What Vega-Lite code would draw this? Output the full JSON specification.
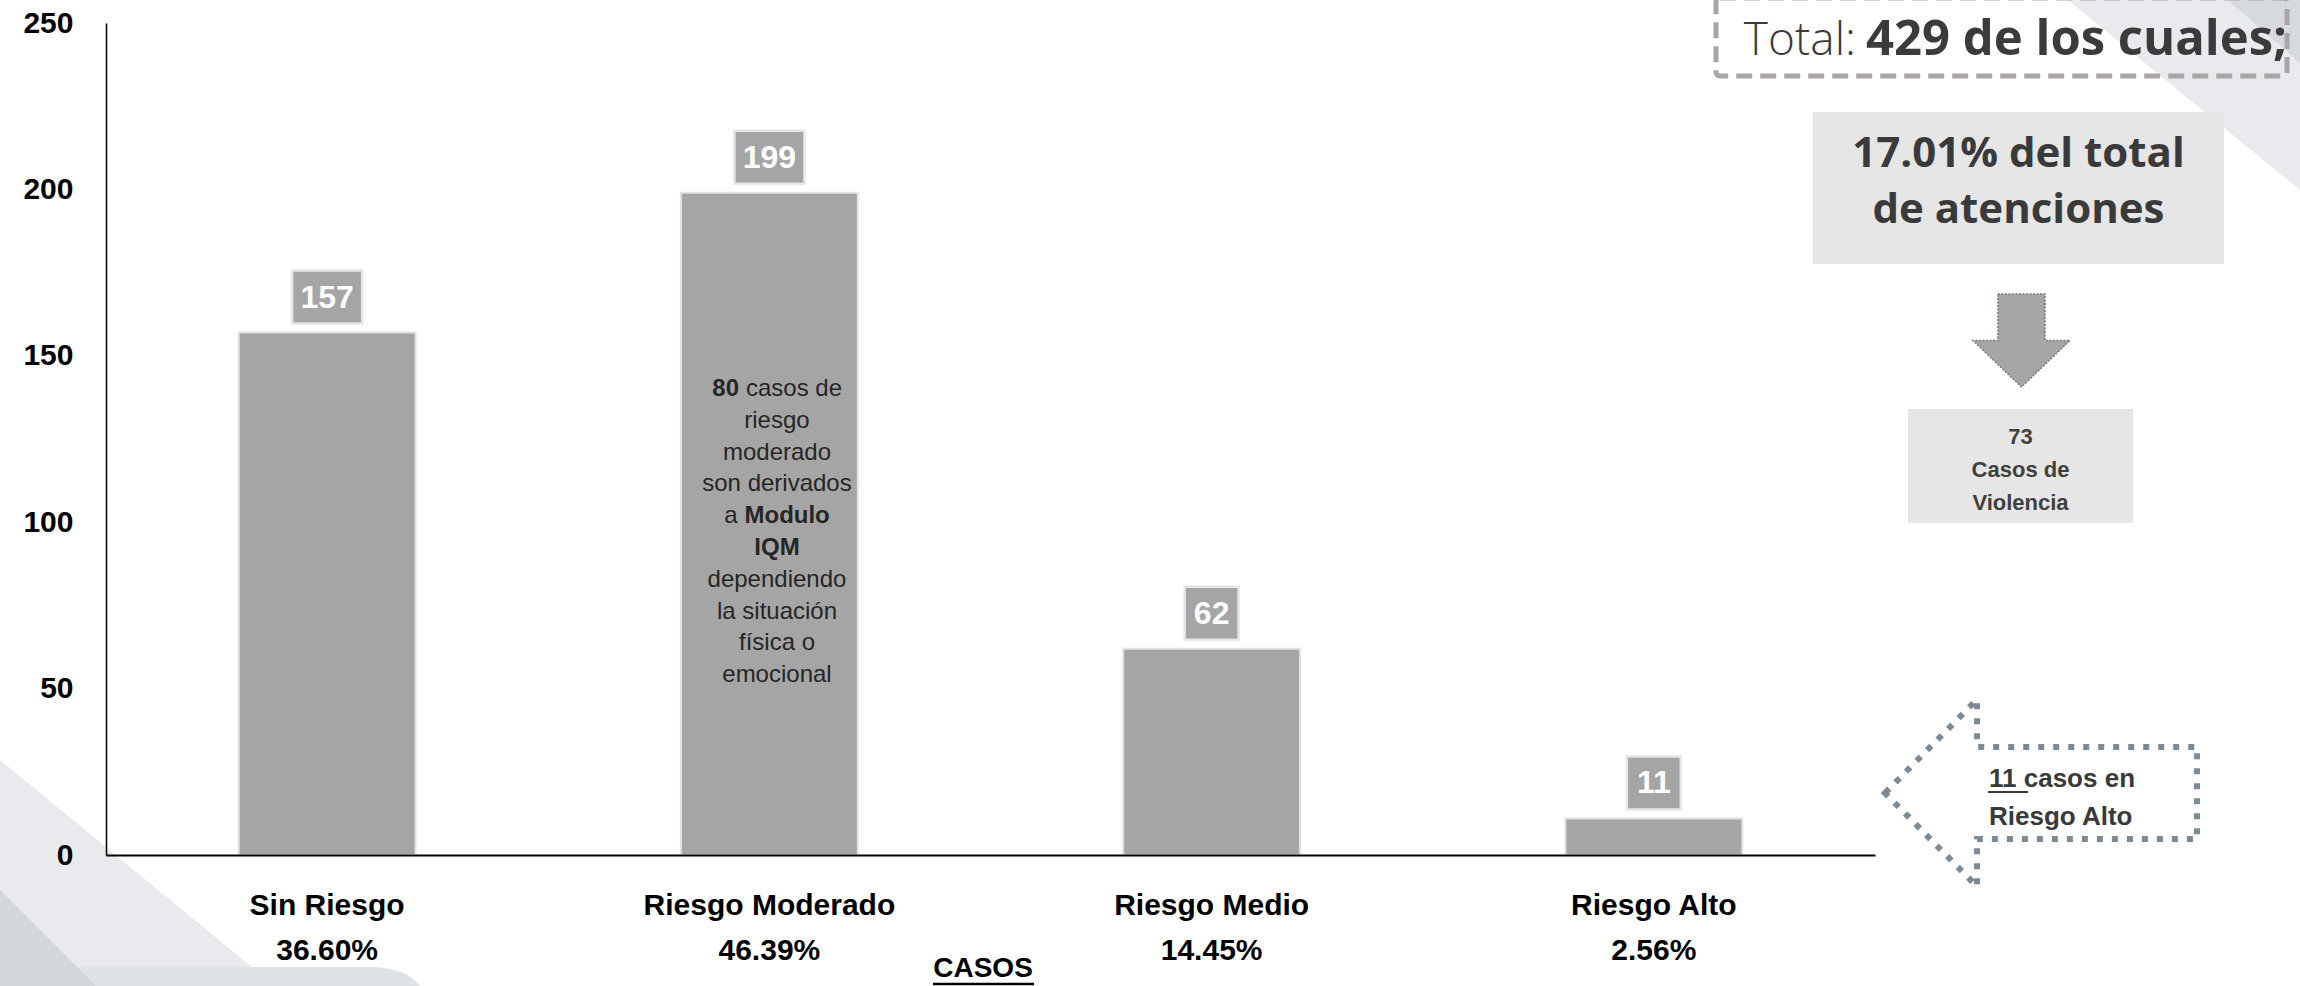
{
  "$schema": "https://vega.github.io/schema/vega-lite/v6.json",
  "width": 1769,
  "height": 832,
  "autosize": {"type": "none"},
  "padding": {"left": 106, "top": 23, "right": 425, "bottom": 131},
  "background": "white",
  "config": {"view": {"stroke": null}, "font": "Liberation Sans"},
  "data": {"values": [
    {"categoria": "Sin Riesgo", "casos": 157, "porcentaje": 0.3660},
    {"categoria": "Riesgo Moderado", "casos": 199, "porcentaje": 0.4639},
    {"categoria": "Riesgo Medio", "casos": 62, "porcentaje": 0.1445},
    {"categoria": "Riesgo Alto", "casos": 11, "porcentaje": 0.0256}
  ]},
  "resolve": {"scale": {"x": "independent"}},
  "layer": [
    {
      "data": {"values": [{}]},
      "encoding": {
        "x": {"datum": 0, "type": "quantitative", "scale": {"domain": [0, 4], "nice": false}, "axis": null},
        "y": {"datum": 0, "type": "quantitative", "scale": {"domain": [0, 250], "nice": false}}
      },
      "layer": [
        {"mark": {"type": "point", "shape": "M -106 -95 L 169 131 L -106 131 Z", "size": 4, "filled": true, "fill": "#e9eaed", "strokeWidth": 0, "opacity": 1}},
        {"mark": {"type": "point", "shape": "M -106 112 L 264 112 Q 300 112 314 131 L -106 131 Z", "size": 4, "filled": true, "fill": "#e0e3e6", "strokeWidth": 0, "opacity": 1}},
        {"mark": {"type": "point", "shape": "M -106 35 L -10 131 L -106 131 Z", "size": 4, "filled": true, "fill": "#d3d7dc", "strokeWidth": 0, "opacity": 1}},
        {"mark": {"type": "point", "shape": "M -232 0 L 0 0 L 0 190 Z", "size": 4, "filled": true, "fill": "#e9eaed", "strokeWidth": 0, "opacity": 1},
         "encoding": {
           "x": {"datum": 4.961, "type": "quantitative", "scale": {"domain": [0, 4], "nice": false}, "axis": null},
           "y": {"datum": 256.91, "type": "quantitative", "scale": {"domain": [0, 250], "nice": false}}
         }},
        {"mark": {"type": "point", "shape": "M -72 0 L 0 0 L 0 63 Z", "size": 4, "filled": true, "fill": "#d6d9de", "strokeWidth": 0, "opacity": 1},
         "encoding": {
           "x": {"datum": 4.961, "type": "quantitative", "scale": {"domain": [0, 4], "nice": false}, "axis": null},
           "y": {"datum": 256.91, "type": "quantitative", "scale": {"domain": [0, 250], "nice": false}}
         }}
      ]
    },
    {
      "encoding": {
        "x": {"field": "categoria", "type": "nominal", "sort": null,
              "scale": {"paddingInner": 0.6, "paddingOuter": 0.3},
              "axis": {"title": null, "labels": false, "ticks": false, "domainColor": "#000000", "domainWidth": 2, "zindex": 1}}
      },
      "layer": [
        {
          "mark": {"type": "bar", "fill": "#a5a5a5", "stroke": "#e2e2e2", "strokeWidth": 2},
          "encoding": {
            "y": {"field": "casos", "type": "quantitative",
                  "scale": {"domain": [0, 250], "nice": false},
                  "axis": {"title": null, "ticks": false, "grid": false, "values": [0, 50, 100, 150, 200, 250],
                           "labelFontSize": 30, "labelFontWeight": "bold", "labelColor": "#000000",
                           "labelPadding": 33, "domainColor": "#000000", "domainWidth": 1.5, "zindex": 1}}
          }
        },
        {
          "mark": {"type": "bar", "fill": "#a5a5a5", "stroke": "#e6e6e6", "strokeWidth": 2.5, "yOffset": -9, "y2Offset": -62},
          "encoding": {
            "y": {"field": "casos", "type": "quantitative", "scale": {"domain": [0, 250], "nice": false}},
            "y2": {"field": "casos"},
            "size": {"condition": {"test": "datum.casos >= 100", "value": 70}, "value": 54}
          }
        },
        {
          "mark": {"type": "text", "color": "#ffffff", "fontSize": 32, "fontWeight": "bold", "baseline": "middle", "dy": -35},
          "encoding": {
            "y": {"field": "casos", "type": "quantitative", "scale": {"domain": [0, 250], "nice": false}},
            "text": {"field": "casos", "type": "quantitative"}
          }
        },
        {
          "mark": {"type": "text", "color": "#000000", "fontSize": 30, "fontWeight": "bold", "baseline": "alphabetic", "dy": 60},
          "encoding": {
            "y": {"datum": 0, "type": "quantitative", "scale": {"domain": [0, 250], "nice": false}},
            "text": {"field": "categoria", "type": "nominal"}
          }
        },
        {
          "mark": {"type": "text", "color": "#000000", "fontSize": 30, "fontWeight": "bold", "baseline": "alphabetic", "dy": 105},
          "encoding": {
            "y": {"datum": 0, "type": "quantitative", "scale": {"domain": [0, 250], "nice": false}},
            "text": {"field": "porcentaje", "type": "quantitative", "format": ".2%"}
          }
        }
      ]
    },
    {
      "data": {"values": [{}]},
      "layer": [
        {"mark": {"type": "rect", "filled": false, "stroke": "#aaa6a6", "strokeWidth": 5, "strokeDash": [16, 8], "cornerRadius": 4, "opacity": 1},
         "encoding": {
           "x": {"datum": 3.6405, "type": "quantitative", "scale": {"domain": [0, 4], "nice": false}, "axis": null},
           "x2": {"datum": 4.9316},
           "y": {"datum": 257.5, "type": "quantitative", "scale": {"domain": [0, 250], "nice": false}},
           "y2": {"datum": 234.07}
         }},
        {"mark": {"type": "text", "text": "Total:", "font": "Open Sans", "fontWeight": 300, "fontSize": 46, "align": "right", "baseline": "alphabetic", "color": "#3b3b3b"},
         "encoding": {
           "x": {"datum": 3.9571, "type": "quantitative", "scale": {"domain": [0, 4], "nice": false}, "axis": null},
           "y": {"datum": 240.38, "type": "quantitative", "scale": {"domain": [0, 250], "nice": false}}
         }},
        {"mark": {"type": "text", "text": "429 de los cuales;", "font": "Open Sans", "fontWeight": "bold", "fontSize": 49, "align": "left", "baseline": "alphabetic", "color": "#3b3b3b"},
         "encoding": {
           "x": {"datum": 3.9797, "type": "quantitative", "scale": {"domain": [0, 4], "nice": false}, "axis": null},
           "y": {"datum": 240.38, "type": "quantitative", "scale": {"domain": [0, 250], "nice": false}}
         }},
        {"mark": {"type": "rect", "fill": "#e6e6e6"},
         "encoding": {
           "x": {"datum": 3.8598, "type": "quantitative", "scale": {"domain": [0, 4], "nice": false}, "axis": null},
           "x2": {"datum": 4.7892},
           "y": {"datum": 223.26, "type": "quantitative", "scale": {"domain": [0, 250], "nice": false}},
           "y2": {"datum": 177.58}
         }},
        {"mark": {"type": "text", "text": ["17.01% del total", "de atenciones"], "font": "Open Sans", "fontWeight": "bold", "fontSize": 42, "lineHeight": 56, "align": "center", "baseline": "alphabetic", "color": "#3a3a3a"},
         "encoding": {
           "x": {"datum": 4.3244, "type": "quantitative", "scale": {"domain": [0, 4], "nice": false}, "axis": null},
           "y": {"datum": 206.73, "type": "quantitative", "scale": {"domain": [0, 250], "nice": false}}
         }},
        {"mark": {"type": "point", "shape": "M -0.485 -0.959 L 0.485 -0.959 L 0.485 0 L 1 0 L 0 0.959 L -1 0 L -0.485 0 Z", "size": 9409, "filled": true, "fill": "#a6a6a6", "stroke": "#6d7b88", "strokeWidth": 1.5, "strokeDash": [2, 1.5], "opacity": 1},
         "encoding": {
           "x": {"datum": 4.3312, "type": "quantitative", "scale": {"domain": [0, 4], "nice": false}, "axis": null},
           "y": {"datum": 154.6, "type": "quantitative", "scale": {"domain": [0, 250], "nice": false}}
         }},
        {"mark": {"type": "rect", "fill": "#e6e6e6"},
         "encoding": {
           "x": {"datum": 4.0747, "type": "quantitative", "scale": {"domain": [0, 4], "nice": false}, "axis": null},
           "x2": {"datum": 4.5834},
           "y": {"datum": 134.01, "type": "quantitative", "scale": {"domain": [0, 250], "nice": false}},
           "y2": {"datum": 99.76}
         }},
        {"mark": {"type": "text", "text": ["73", "Casos de", "Violencia"], "fontWeight": "bold", "fontSize": 22, "lineHeight": 33, "align": "center", "baseline": "alphabetic", "color": "#404040"},
         "encoding": {
           "x": {"datum": 4.329, "type": "quantitative", "scale": {"domain": [0, 4], "nice": false}, "axis": null},
           "y": {"datum": 123.5, "type": "quantitative", "scale": {"domain": [0, 250], "nice": false}}
         }},
        {"mark": {"type": "point", "shape": "M -1 0 L -0.41 -0.6 L -0.41 -0.295 L 1 -0.295 L 1 0.295 L -0.41 0.295 L -0.41 0.6 Z", "size": 97344, "filled": false, "stroke": "#7b8a97", "strokeWidth": 6, "strokeDash": [6, 9], "opacity": 1},
         "encoding": {
           "x": {"datum": 4.3754, "type": "quantitative", "scale": {"domain": [0, 4], "nice": false}, "axis": null},
           "y": {"datum": 18.63, "type": "quantitative", "scale": {"domain": [0, 250], "nice": false}}
         }},
        {"mark": {"type": "text", "text": ["11 casos en", "Riesgo Alto"], "fontWeight": "bold", "fontSize": 26, "lineHeight": 38, "align": "left", "baseline": "alphabetic", "color": "#3a3a3a"},
         "encoding": {
           "x": {"datum": 4.2578, "type": "quantitative", "scale": {"domain": [0, 4], "nice": false}, "axis": null},
           "y": {"datum": 20.43, "type": "quantitative", "scale": {"domain": [0, 250], "nice": false}}
         }},
        {"mark": {"type": "rule", "stroke": "#3a3a3a", "strokeWidth": 2},
         "encoding": {
           "x": {"datum": 4.2555, "type": "quantitative", "scale": {"domain": [0, 4], "nice": false}, "axis": null},
           "x2": {"datum": 4.346},
           "y": {"datum": 18.93, "type": "quantitative", "scale": {"domain": [0, 250], "nice": false}}
         }},
        {"mark": {"type": "text", "text": "80", "fontWeight": "bold", "fontSize": 24, "align": "right", "baseline": "alphabetic", "color": "#262626"},
         "encoding": {
           "x": {"datum": 1.4313, "type": "quantitative", "scale": {"domain": [0, 4], "nice": false}, "axis": null},
           "y": {"datum": 137.92, "type": "quantitative", "scale": {"domain": [0, 250], "nice": false}}
         }},
        {"mark": {"type": "text", "text": "casos de", "fontSize": 24, "align": "left", "baseline": "alphabetic", "color": "#262626"},
         "encoding": {
           "x": {"datum": 1.4471, "type": "quantitative", "scale": {"domain": [0, 4], "nice": false}, "axis": null},
           "y": {"datum": 137.92, "type": "quantitative", "scale": {"domain": [0, 250], "nice": false}}
         }},
        {"mark": {"type": "text", "text": ["riesgo", "moderado", "son derivados"], "fontSize": 24, "lineHeight": 31.8, "align": "center", "baseline": "alphabetic", "color": "#262626"},
         "encoding": {
           "x": {"datum": 1.5172, "type": "quantitative", "scale": {"domain": [0, 4], "nice": false}, "axis": null},
           "y": {"datum": 128.37, "type": "quantitative", "scale": {"domain": [0, 250], "nice": false}}
         }},
        {"mark": {"type": "text", "text": "a", "fontSize": 24, "align": "right", "baseline": "alphabetic", "color": "#262626"},
         "encoding": {
           "x": {"datum": 1.4284, "type": "quantitative", "scale": {"domain": [0, 4], "nice": false}, "axis": null},
           "y": {"datum": 99.7, "type": "quantitative", "scale": {"domain": [0, 250], "nice": false}}
         }},
        {"mark": {"type": "text", "text": "Modulo", "fontWeight": "bold", "fontSize": 24, "align": "left", "baseline": "alphabetic", "color": "#262626"},
         "encoding": {
           "x": {"datum": 1.4437, "type": "quantitative", "scale": {"domain": [0, 4], "nice": false}, "axis": null},
           "y": {"datum": 99.7, "type": "quantitative", "scale": {"domain": [0, 250], "nice": false}}
         }},
        {"mark": {"type": "text", "text": "IQM", "fontWeight": "bold", "fontSize": 24, "align": "center", "baseline": "alphabetic", "color": "#262626"},
         "encoding": {
           "x": {"datum": 1.5172, "type": "quantitative", "scale": {"domain": [0, 4], "nice": false}, "axis": null},
           "y": {"datum": 90.14, "type": "quantitative", "scale": {"domain": [0, 250], "nice": false}}
         }},
        {"mark": {"type": "text", "text": ["dependiendo", "la situación", "física o", "emocional"], "fontSize": 24, "lineHeight": 31.8, "align": "center", "baseline": "alphabetic", "color": "#262626"},
         "encoding": {
           "x": {"datum": 1.5172, "type": "quantitative", "scale": {"domain": [0, 4], "nice": false}, "axis": null},
           "y": {"datum": 80.59, "type": "quantitative", "scale": {"domain": [0, 250], "nice": false}}
         }},
        {"mark": {"type": "text", "text": "CASOS", "fontWeight": "bold", "fontSize": 28, "align": "center", "baseline": "alphabetic", "color": "#000000"},
         "encoding": {
           "x": {"datum": 1.9831, "type": "quantitative", "scale": {"domain": [0, 4], "nice": false}, "axis": null},
           "y": {"datum": -36.66, "type": "quantitative", "scale": {"domain": [0, 250], "nice": false}}
         }},
        {"mark": {"type": "rule", "stroke": "#000000", "strokeWidth": 2.5},
         "encoding": {
           "x": {"datum": 1.87, "type": "quantitative", "scale": {"domain": [0, 4], "nice": false}, "axis": null},
           "x2": {"datum": 2.0984},
           "y": {"datum": -38.76, "type": "quantitative", "scale": {"domain": [0, 250], "nice": false}}
         }}
      ]
    }
  ]
}
